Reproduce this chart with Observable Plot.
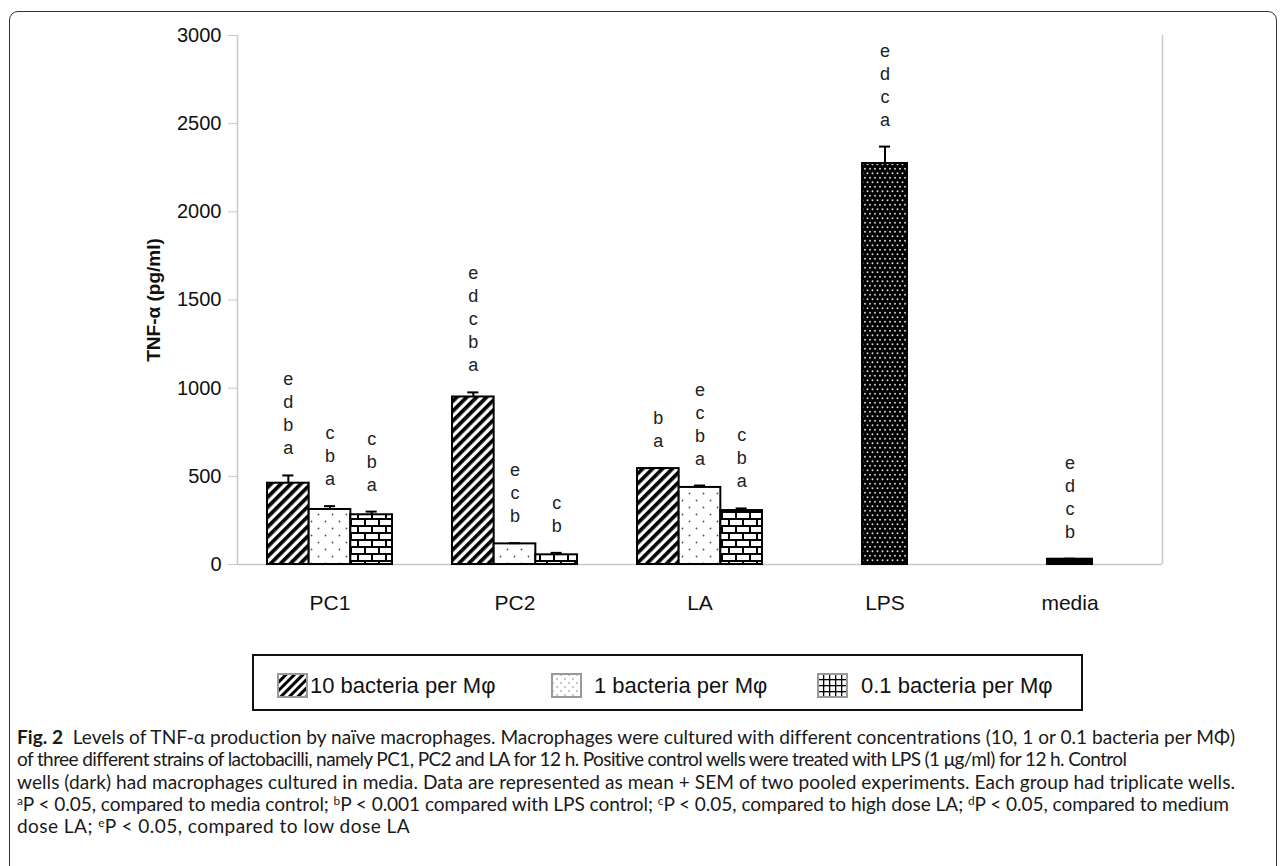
<!DOCTYPE html>
<html><head><meta charset="utf-8">
<script src="https://cdn.jsdelivr.net/npm/d3@7"></script>
<script src="https://cdn.jsdelivr.net/npm/@observablehq/plot@0.6"></script>
<style>
html,body{margin:0;padding:0;background:#fff;}
body{width:1284px;height:866px;overflow:hidden;position:relative;font-family:"Liberation Sans",Arial,sans-serif;color:#111;}
#frame{position:absolute;left:9px;top:11px;width:1268px;height:900px;border:1px solid #333;border-radius:9px;box-sizing:border-box;}
#chart{position:absolute;left:0;top:0;}
#legend{position:absolute;left:252px;top:654px;width:831px;height:57px;border:2px solid #111;box-sizing:border-box;}
.item{position:absolute;top:17px;height:25px;display:flex;align-items:center;font-size:22px;white-space:nowrap;}
.item svg{flex:none;}
#caption{position:absolute;left:17px;top:726px;font-family:Lato,"Open Sans",sans-serif;font-size:16px;line-height:22.3px;color:#1a1a1a;}
.ln{white-space:nowrap;width:max-content;}
.ln b{font-weight:700;}
sup{font-size:0.62em;line-height:0;vertical-align:0.55em;}
</style>
</head><body>
<svg width="0" height="0" style="position:absolute;left:0;top:0">
<defs>
<pattern id="pStripe" patternUnits="userSpaceOnUse" width="7" height="7" patternTransform="rotate(45)">
<rect width="7" height="7" fill="#fff"/><rect width="3.7" height="7" fill="#000"/>
</pattern>
<pattern id="pDots" patternUnits="userSpaceOnUse" width="14" height="14">
<rect width="14" height="14" fill="#fff"/><circle cx="3.5" cy="3.5" r="0.9" fill="#555"/><circle cx="10.5" cy="10.5" r="0.9" fill="#555"/>
</pattern>
<pattern id="pBrick" patternUnits="userSpaceOnUse" width="14" height="14">
<rect width="14" height="14" fill="#fff"/>
<rect y="0" width="14" height="2" fill="#000"/><rect y="7" width="14" height="2" fill="#000"/>
<rect x="0" y="0" width="2" height="7" fill="#000"/><rect x="7" y="7" width="2" height="7" fill="#000"/>
</pattern>
<pattern id="pLps" patternUnits="userSpaceOnUse" width="10" height="9">
<rect width="10" height="9" fill="#000"/>
<circle cx="2.5" cy="2.25" r="0.95" fill="#ddd"/><circle cx="7.5" cy="2.25" r="0.95" fill="#ddd"/>
<circle cx="0" cy="6.75" r="0.95" fill="#ddd"/><circle cx="5" cy="6.75" r="0.95" fill="#ddd"/><circle cx="10" cy="6.75" r="0.95" fill="#ddd"/>
</pattern>
<pattern id="lStripe" patternUnits="userSpaceOnUse" width="6" height="6" patternTransform="rotate(45)">
<rect width="6" height="6" fill="#fff"/><rect width="3" height="6" fill="#000"/>
</pattern>
<pattern id="lDots" patternUnits="userSpaceOnUse" width="8" height="8">
<rect width="8" height="8" fill="#fff"/><circle cx="2" cy="2" r="0.7" fill="#666"/><circle cx="6" cy="6" r="0.7" fill="#666"/>
</pattern>
<pattern id="lGrid" patternUnits="userSpaceOnUse" width="6" height="6">
<rect width="6" height="6" fill="#fff"/><rect width="6" height="1.3" fill="#000"/><rect width="1.3" height="6" fill="#000"/>
</pattern>
</defs>
</svg>
<div id="frame"></div>
<div id="chart"></div>
<div id="legend"></div>
<div id="caption">
<div class="ln"><b>Fig. 2</b>&nbsp; Levels of TNF-α production by naïve macrophages. Macrophages were cultured with different concentrations (10, 1 or 0.1 bacteria per MΦ)</div>
<div class="ln">of three different strains of lactobacilli, namely PC1, PC2 and LA for 12 h. Positive control wells were treated with LPS (1 μg/ml) for 12 h. Control</div>
<div class="ln">wells (dark) had macrophages cultured in media. Data are represented as mean + SEM of two pooled experiments. Each group had triplicate wells.</div>
<div class="ln"><sup>a</sup>P &lt; 0.05, compared to media control; <sup>b</sup>P &lt; 0.001 compared with LPS control; <sup>c</sup>P &lt; 0.05, compared to high dose LA; <sup>d</sup>P &lt; 0.05, compared to medium</div>
<div class="ln">dose LA; <sup>e</sup>P &lt; 0.05, compared to low dose LA</div>
</div>
<script>
// ---- data ----
const categories = ["PC1", "PC2", "LA", "LPS", "media"];
const strains = ["PC1", "PC2", "LA"];
const seriesNames = ["10 bacteria per Mφ", "1 bacteria per Mφ", "0.1 bacteria per Mφ"];
const mean10 = [461, 950, 544];
const sem10 = [44, 26, 3];
const mean1 = [312, 117, 437];
const sem1 = [19, 4, 11];
const mean01 = [282, 55, 306];
const sem01 = [18, 11, 12];
const letters10 = ["edba", "edcba", "ba"];
const letters1 = ["cba", "ecb", "ecba"];
const letters01 = ["cba", "cb", "cba"];
const controls = ["LPS", "media"];
const controlMean = [2274, 30];
const controlSem = [96, 3];
const controlLetters = ["edca", "edcb"];
const yTicks = [0, 500, 1000, 1500, 2000, 2500, 3000];
const yLabel = "TNF-α (pg/ml)";

// ---- styles ----
const seriesFill = ["url(#pStripe)", "url(#pDots)", "url(#pBrick)"];
const legendFill = ["url(#lStripe)", "url(#lDots)", "url(#lGrid)"];
const controlFill = ["url(#pLps)", "#000"];
const barW = 0.2252, singleW = 0.243, capHalf = 0.03;

const means = [mean10, mean1, mean01], sems = [sem10, sem1, sem01], letts = [letters10, letters1, letters01];
const rows = [];
means.forEach((arr, s) => arr.forEach((v, g) => {
  const gi = categories.indexOf(strains[g]);
  const x1 = gi + (s - 1.5) * barW;
  rows.push({x1, x2: x1 + barW, xc: x1 + barW / 2, value: v, sem: sems[s][g], letters: letts[s][g], fill: seriesFill[s]});
}));
controls.forEach((c, k) => {
  const gi = categories.indexOf(c);
  rows.push({x1: gi - singleW / 2, x2: gi + singleW / 2, xc: gi, value: controlMean[k], sem: controlSem[k], letters: controlLetters[k], fill: controlFill[k]});
});

const plot = Plot.plot({
  width: 1284, height: 625,
  marginLeft: 237, marginRight: 122, marginTop: 35, marginBottom: 61,
  x: {domain: [-0.5, categories.length - 0.5], axis: null},
  y: {domain: [0, 3000], axis: null},
  color: {type: "identity"},
  style: {fontFamily: "'Liberation Sans', Arial, sans-serif", color: "#111", background: "transparent"},
  marks: [
    Plot.ruleX([-0.5, categories.length - 0.5], {stroke: "#c8c8c8", strokeWidth: 1.5}),
    Plot.ruleY([0], {stroke: "#c8c8c8", strokeWidth: 1.5}),
    Plot.axisY({ticks: yTicks, tickFormat: d => String(d), tickSize: 9, tickPadding: 7, fontSize: 20, color: "#111", stroke: "#c8c8c8", label: null}),
    Plot.axisX({ticks: categories.map((c, i) => i), tickFormat: i => categories[i], tickSize: 0, tickPadding: 31, fontSize: 21, color: "#111", label: null}),
    Plot.rect(rows, {x1: "x1", x2: "x2", y1: 0, y2: "value", fill: "fill", stroke: "#000", strokeWidth: 2}),
    Plot.ruleX(rows, {x: "xc", y1: "value", y2: d => d.value + d.sem, stroke: "#000", strokeWidth: 2}),
    Plot.ruleY(rows, {y: d => d.value + d.sem, x1: d => d.xc - capHalf, x2: d => d.xc + capHalf, stroke: "#000", strokeWidth: 2}),
    Plot.text(rows, {x: "xc", y: d => d.value + d.sem, text: d => d.letters.split("").join("\n"), lineAnchor: "bottom", lineHeight: 23 / 18, fontSize: 18, dy: -21, fill: "#222"}),
    Plot.text([yLabel], {frameAnchor: "left", dx: -84, rotate: -90, textAnchor: "middle", fontSize: 19, fontWeight: "bold", fill: "#111"})
  ]
});
document.getElementById("chart").appendChild(plot);

// legend
const legend = document.getElementById("legend");
const itemPos = [{sw: 23, gap: 2}, {sw: 297, gap: 12}, {sw: 563, gap: 13}];
seriesNames.forEach((name, i) => {
  const div = document.createElement("div");
  div.className = "item";
  div.style.left = itemPos[i].sw + "px";
  div.innerHTML = `<svg width="31" height="25"><rect x="1" y="1" width="29" height="23" fill="${legendFill[i]}" stroke="#999" stroke-width="2"/></svg><span style="margin-left:${itemPos[i].gap}px">${name}</span>`;
  legend.appendChild(div);
});

// caption fit: each line to the width it has in the reference
const cap = document.getElementById("caption");
const lines = Array.from(cap.querySelectorAll(".ln"));
const targets = [1218, 1109, 1218, 1212, 393];
const nat = lines.map(l => l.getBoundingClientRect().width);
const ratios = nat.map((w, i) => targets[i] / w);
const fs = 16 * d3.median(ratios);
cap.style.fontSize = fs + "px";
lines.forEach((l, i) => {
  const w = l.getBoundingClientRect().width;
  const n = l.textContent.length;
  l.style.letterSpacing = ((targets[i] - w) / n) + "px";
});
</script>
</body></html>
